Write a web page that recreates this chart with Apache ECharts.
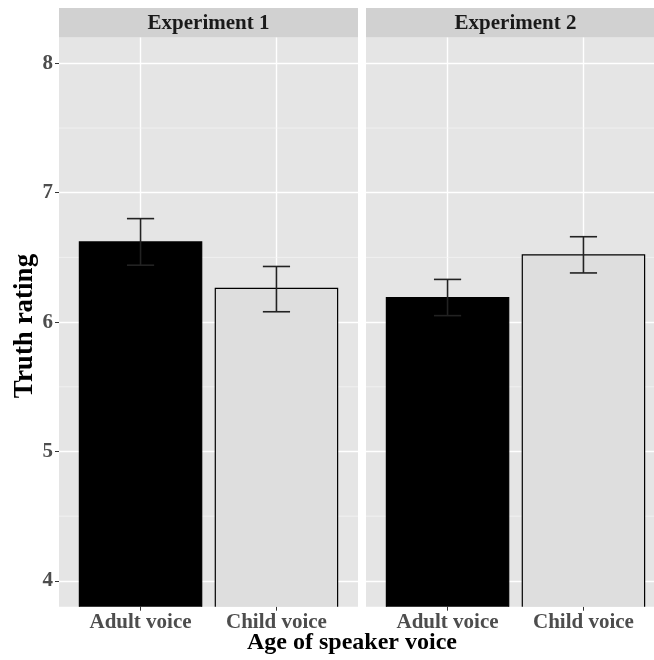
<!DOCTYPE html>
<html>
<head>
<meta charset="utf-8">
<script src="https://cdn.jsdelivr.net/npm/echarts@6/dist/echarts.min.js"></script>
<style>html,body{margin:0;padding:0;background:#fff}#c{width:654px;height:660px}</style>
</head>
<body>
<div id="c"></div>
<script>
const panels = ['Experiment 1', 'Experiment 2'];
const categories = ['Adult voice', 'Child voice'];
const exp1Means = [6.62, 6.26];
const exp1Lower = [6.44, 6.08];
const exp1Upper = [6.80, 6.43];
const exp2Means = [6.19, 6.52];
const exp2Lower = [6.05, 6.38];
const exp2Upper = [6.33, 6.66];
const yTicks = [4, 5, 6, 7, 8];
const yMinorTicks = [4.5, 5.5, 6.5, 7.5];
const barFills = ['#000000', '#DEDEDE'];

const FONT = 'Liberation Serif';
const Y_MIN = 3.8, Y_MAX = 8.2;
const X_MIN = 0.4, X_MAX = 2.6;
const BAR_W = 0.9, CAP_W = 0.2;

const panelLeft = [59, 366];
const panelW = 299;
const gridTop = 37.5, gridBottom = 53.3;

function barData(means, lo, hi) {
  return means.map((m, i) => [i + 1, m, lo[i], hi[i], i]);
}

function renderBar(params, api) {
  const x = api.value(0), m = api.value(1), lo = api.value(2), hi = api.value(3), ci = api.value(4);
  const w = api.size([BAR_W, 0])[0];
  const top = api.coord([x, m]);
  const bottom = api.coord([x, Y_MIN]);
  const xl = top[0] - w / 2, xr = top[0] + w / 2;
  const capW = api.size([CAP_W, 0])[0];
  const pLo = api.coord([x, lo]), pHi = api.coord([x, hi]);
  const children = [
    { type: 'rect', shape: { x: xl, y: top[1], width: w, height: bottom[1] - top[1] }, style: { fill: barFills[ci] } },
    { type: 'polyline', shape: { points: [[xl, bottom[1]], [xl, top[1]], [xr, top[1]], [xr, bottom[1]]] }, style: { fill: null, stroke: '#000', lineWidth: 1.2 } },
    { type: 'line', shape: { x1: pLo[0], y1: pLo[1], x2: pHi[0], y2: pHi[1] }, style: { stroke: '#222', lineWidth: 1.6 } },
    { type: 'line', shape: { x1: pHi[0] - capW / 2, y1: pHi[1], x2: pHi[0] + capW / 2, y2: pHi[1] }, style: { stroke: '#222', lineWidth: 1.6 } },
    { type: 'line', shape: { x1: pLo[0] - capW / 2, y1: pLo[1], x2: pLo[0] + capW / 2, y2: pLo[1] }, style: { stroke: '#222', lineWidth: 1.6 } }
  ];
  return { type: 'group', children };
}

function renderMinor(params, api) {
  const v = api.value(0);
  const cs = params.coordSys;
  const p = api.coord([X_MIN, v]);
  return { type: 'line', shape: { x1: cs.x, y1: p[1], x2: cs.x + cs.width, y2: p[1] }, style: { stroke: '#F5F5F5', lineWidth: 0.7 } };
}

const chart = echarts.init(document.getElementById('c'), null, { renderer: 'canvas' });

const grids = panelLeft.map(l => ({
  left: l, width: panelW, top: gridTop, bottom: gridBottom,
  show: true, backgroundColor: '#E5E5E5', borderWidth: 0, containLabel: false,
  outerBoundsMode: 'none'
}));

const xAxes = [0, 1].map(i => ({
  type: 'value', gridIndex: i, min: X_MIN, max: X_MAX,
  axisLine: { show: false },
  axisTick: { show: true, customValues: [1, 2], length: 4, lineStyle: { color: '#333', width: 1 } },
  axisLabel: { show: true, customValues: [1, 2], formatter: v => categories[Math.round(v) - 1] || '', margin: 5,
    fontFamily: FONT, fontWeight: 'bold', fontSize: 21, color: '#4D4D4D' },
  splitLine: { show: true, lineStyle: { color: '#FFFFFF', width: 1.4 } }
}));

const yAxes = [0, 1].map(i => ({
  type: 'value', gridIndex: i, min: Y_MIN, max: Y_MAX,
  axisLine: { show: false },
  axisTick: { show: i === 0, customValues: yTicks, length: 4, lineStyle: { color: '#333', width: 1 } },
  axisLabel: { show: i === 0, customValues: yTicks, margin: 6,
    fontFamily: FONT, fontWeight: 'bold', fontSize: 21, color: '#4D4D4D' },
  splitLine: { show: true, lineStyle: { color: '#FFFFFF', width: 1.4 } }
}));

const allData = [barData(exp1Means, exp1Lower, exp1Upper), barData(exp2Means, exp2Lower, exp2Upper)];

const series = [];
[0, 1].forEach(i => {
  series.push({ type: 'custom', xAxisIndex: i, yAxisIndex: i, z: 1, silent: true,
    renderItem: renderMinor, data: yMinorTicks.map(v => [v]), encode: { y: 0 } });
  series.push({ type: 'custom', xAxisIndex: i, yAxisIndex: i, z: 3, silent: true,
    renderItem: renderBar, data: allData[i], encode: { x: 0, y: [1, 2, 3] } });
});

const graphic = [];
panelLeft.forEach((l, i) => {
  graphic.push({ type: 'rect', left: l, top: 8, shape: { width: panelW, height: 29.5 }, style: { fill: '#D1D1D1' }, silent: true });
  graphic.push({ type: 'text', x: l + panelW / 2, y: 23.5, style: { text: panels[i], fontFamily: FONT, fontWeight: 'bold', fontSize: 21,
    fill: '#1A1A1A', align: 'center', verticalAlign: 'middle' }, silent: true });
});
graphic.push({ type: 'text', x: 352, y: 643, style: { text: 'Age of speaker voice', fontFamily: FONT, fontWeight: 'bold', fontSize: 24,
  fill: '#000', align: 'center', verticalAlign: 'middle' }, silent: true });
graphic.push({ type: 'text', x: 25, y: 326, rotation: Math.PI / 2, style: { text: 'Truth rating', fontFamily: FONT, fontWeight: 'bold', fontSize: 27,
  fill: '#000', align: 'center', verticalAlign: 'middle' }, silent: true });

chart.setOption({
  animation: false,
  backgroundColor: '#FFFFFF',
  grid: grids,
  xAxis: xAxes,
  yAxis: yAxes,
  series,
  graphic
});
</script>
</body>
</html>
